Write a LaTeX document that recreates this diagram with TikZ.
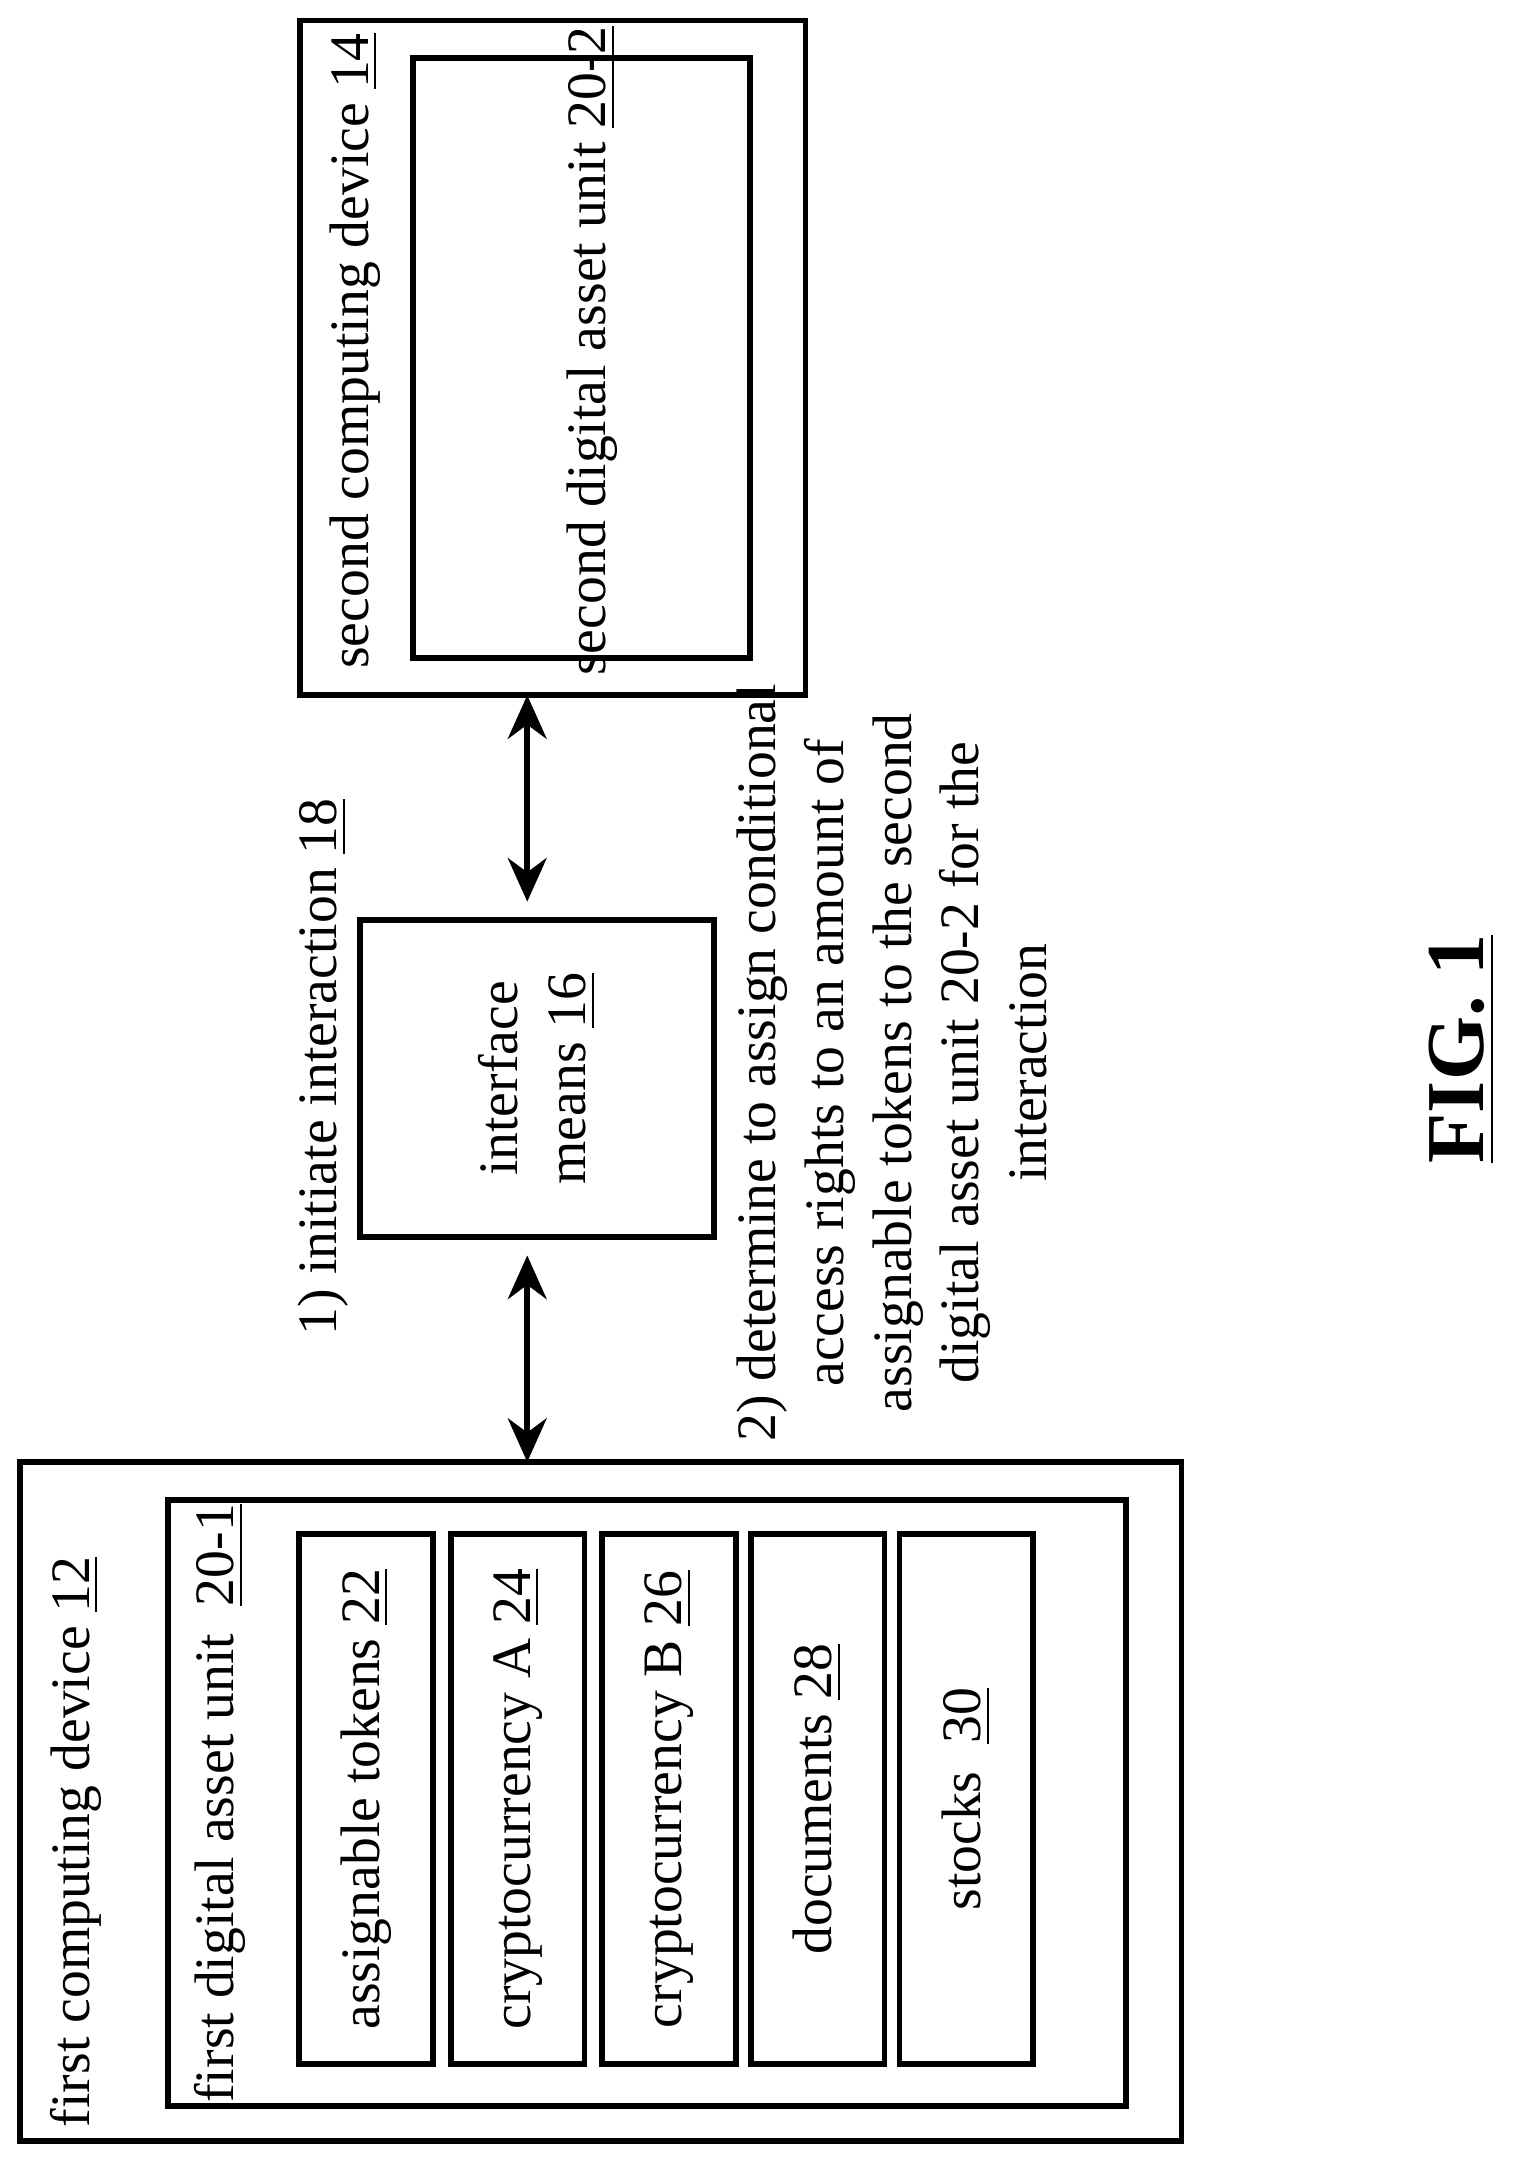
\documentclass[tikz,border=0pt]{standalone}
\usepackage{fontspec}
\setmainfont{Liberation Serif}
\usetikzlibrary{arrows.meta,positioning}
\tikzset{
    box/.style = {draw, line width=1.2pt, inner sep=0pt},
    item/.style = {draw, line width=1.2pt, rotate=90, minimum width=3.85cm, minimum height=0.97cm, inner sep=2pt},
    lbl/.style = {rotate=90, inner sep=0pt},
    link/.style = {{Stealth[length=9pt,width=8pt]}-{Stealth[length=9pt,width=8pt]}, line width=1.3pt}
}
\begin{document}
\begin{tikzpicture}[x=0.01cm,y=-0.01cm,font=\fontsize{11.5}{14}\selectfont]
    \useasboundingbox (0,0) rectangle (1100,1572);
    % first device
    \node[box,minimum width=8.43cm,minimum height=4.93cm] (first) at (436.5,1308.5) {};
    \node[box,minimum width=6.96cm,minimum height=4.40cm] (unitA) at (470,1310) {};
    \node[lbl] (firstlbl) at (55,1338) {first computing device \underline{12}};
    \node[lbl] (unitAlbl) at (160,1310) {first digital asset unit~~\underline{20-1}};
    \node[item] (tokens) at (266,1307) {assignable tokens \underline{22}};
    \node[item] (cryptoA) at (376,1307) {cryptocurrency A \underline{24}};
    \node[item] (cryptoB) at (486,1307) {cryptocurrency B \underline{26}};
    \node[item] (docs) at (594,1307) {documents \underline{28}};
    \node[item] (stocks) at (702,1307) {stocks~~\underline{30}};
    % second device
    \node[box,minimum width=3.67cm,minimum height=4.90cm] (second) at (401.5,260) {};
    \node[box,minimum width=2.45cm,minimum height=4.36cm] (unitB) at (422.5,260) {};
    \node[lbl] (secondlbl) at (258,255) {second computing device \underline{14}};
    \node[lbl] (unitBlbl) at (430,255) {second digital asset unit \underline{20-2}};
    % interface
    \node[box,minimum width=2.30cm,minimum height=2.57cm,rotate=90,align=center] (iface) at (390,783.5) {};
    \node[lbl,align=center] (ifacelbl) at (390,783.5) {interface\\ means \underline{16}};
    \draw[link] (383,655) -- (383,505);
    \draw[link] (383,912) -- (383,1062);
    % steps
    \node[lbl] (step1) at (235,775) {1) initiate interaction \underline{18}};
    \node[lbl,align=center] (step2) at (648,772) {2) determine to assign conditional\\ access rights to an amount of\\ assignable tokens to the second\\ digital asset unit 20-2 for the\\ interaction};
    \node[lbl,font=\fontsize{17}{20}\selectfont\bfseries] (fig) at (1062,762) {\underline{FIG. 1}};
\end{tikzpicture}
\end{document}
